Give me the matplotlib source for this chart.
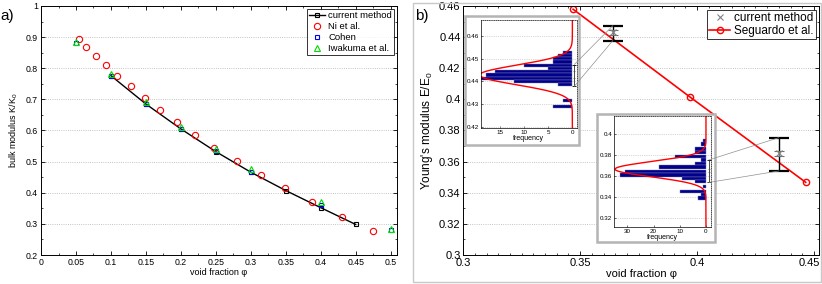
import numpy as np
import matplotlib
matplotlib.use('Agg')
import matplotlib.pyplot as plt
from matplotlib.patches import Rectangle, ConnectionPatch
from matplotlib.ticker import MultipleLocator, FuncFormatter
from matplotlib.transforms import ScaledTranslation

plt.rcParams['font.family'] = ['Liberation Sans', 'DejaVu Sans']
plt.rcParams['mathtext.default'] = 'regular'

# ---- panel a) bulk modulus ----
phi_cur = [0.10, 0.15, 0.20, 0.25, 0.30, 0.35, 0.40, 0.45]
K_cur = [0.776, 0.685, 0.605, 0.532, 0.466, 0.407, 0.352, 0.298]

phi_ni = [0.054, 0.065, 0.078, 0.093, 0.108, 0.128, 0.148, 0.170, 0.194, 0.220,
          0.248, 0.280, 0.314, 0.349, 0.387, 0.430, 0.474]
K_ni = [0.894, 0.869, 0.840, 0.809, 0.776, 0.742, 0.705, 0.666, 0.626, 0.587,
        0.545, 0.502, 0.457, 0.414, 0.370, 0.323, 0.277]

phi_cohen = [0.05, 0.10, 0.15, 0.20, 0.25, 0.30, 0.40, 0.50]
K_cohen = [0.880, 0.775, 0.684, 0.604, 0.534, 0.468, 0.361, 0.280]

phi_iwa = [0.05, 0.10, 0.15, 0.20, 0.25, 0.30, 0.40, 0.50]
K_iwa = [0.884, 0.782, 0.692, 0.611, 0.541, 0.476, 0.369, 0.284]

# ---- panel b) Young's modulus ----
phi_seg = [0.347, 0.397, 0.4465]
E_seg = [0.4579, 0.4015, 0.3467]

phi_cm = np.array([0.364, 0.435])
E_cm = np.array([0.4431, 0.3653])
E_lo = np.array([0.4378, 0.3540])
E_hi = np.array([0.4474, 0.3754])
E_lo_in = np.array([0.4416, 0.3636])
E_hi_in = np.array([0.4446, 0.3668])

# histograms of the two insets
hist1_E = [0.4527, 0.4513, 0.4499, 0.4485, 0.4470, 0.4456, 0.4442, 0.4428,
           0.4414, 0.4400, 0.4386, 0.4316, 0.4288]
hist1_n = [2, 3, 4, 4, 10, 5, 16, 18, 19, 12, 3, 2, 4]
bw1 = 0.00141
fit1 = (19.2, 0.4428, 0.0043)   # amplitude, mean, sigma

hist2_E = [0.3935, 0.3905, 0.3858, 0.3825, 0.3789, 0.3754, 0.3722, 0.3686,
           0.3646, 0.3611, 0.3580, 0.3549, 0.3500, 0.3456, 0.3421, 0.3393]
hist2_n = [1, 2, 4, 4, 12, 2, 4, 18, 31, 33, 9, 4, 1, 10, 2, 3]
bw2 = 0.0031
fit2 = (34.7, 0.3666, 0.0072)

fmt_g = FuncFormatter(lambda v, p: '%g' % round(v, 4))


def style_axes(ax, size):
    ax.tick_params(which='both', direction='in', top=True, right=True, labelsize=size)
    ax.tick_params(which='major', length=3, width=0.6, pad=2)
    ax.tick_params(which='minor', length=1.5, width=0.5)
    for s in ax.spines.values():
        s.set_linewidth(0.7)
    ax.yaxis.grid(True, ls=':', color='#b0b0b0', lw=0.6)
    ax.set_axisbelow(True)
    ax.xaxis.set_major_formatter(fmt_g)
    ax.yaxis.set_major_formatter(fmt_g)


fig = plt.figure(figsize=(8.22, 2.84), dpi=100)

# ---------------- a) ----------------
ax1 = fig.add_axes([0.0499, 0.1021, 0.4331, 0.8768])
ax1.plot(phi_cur, K_cur, '-s', color='black', mfc='none', ms=3.5, mew=0.8, lw=1,
         label='current method')
ax1.plot(phi_ni, K_ni, 'o', ls='none', mec='red', mfc='none', ms=4.5, mew=0.8,
         label='Ni et al.')
ax1.plot(phi_cohen, K_cohen, 's', ls='none', mec='blue', mfc='none', ms=3.5, mew=0.8,
         label='Cohen')
ax1.plot(phi_iwa, K_iwa, '^', ls='none', mec='#00dd00', mfc='none', ms=4.5, mew=0.8,
         label='Iwakuma et al.')
ax1.set_xlim(0, 0.509)
ax1.set_ylim(0.2, 1)
ax1.xaxis.set_major_locator(MultipleLocator(0.05))
ax1.xaxis.set_minor_locator(MultipleLocator(0.025))
ax1.yaxis.set_major_locator(MultipleLocator(0.1))
ax1.yaxis.set_minor_locator(MultipleLocator(0.05))
style_axes(ax1, 6.3)
ax1.set_xlabel('void fraction φ', fontsize=6.5, labelpad=1)
ax1.set_ylabel('bulk modulus K/K$_0$', fontsize=6.5, labelpad=4)
leg1 = ax1.legend(loc='upper right', fontsize=6.8, frameon=True, fancybox=False,
                  borderpad=0.25, labelspacing=0.2, handlelength=1.7,
                  handletextpad=0.3, borderaxespad=0.3)
leg1.get_frame().set_edgecolor('black')
leg1.get_frame().set_linewidth(0.7)
fig.text(0.0, 0.93, 'a)', fontsize=11)

# ---------------- b) ----------------
fig.add_artist(Rectangle((413 / 822, 2 / 284), 408 / 822, 279 / 284,
                         transform=fig.transFigure, fill=False, ec='#c8c8c8', lw=1))
ax2 = fig.add_axes([0.5636, 0.1021, 0.4331, 0.8768])
h_seg, = ax2.plot(phi_seg, E_seg, '-o', color='red', mfc='none', ms=4.5, mew=1, lw=1.2,
                  label='Seguardo et al.')
ax2.errorbar(phi_cm, E_cm, yerr=[E_cm - E_lo, E_hi - E_cm], fmt='none', ecolor='black',
             elinewidth=1, capsize=7.5, capthick=1.6)
ax2.errorbar(phi_cm, E_cm, yerr=[E_cm - E_lo_in, E_hi_in - E_cm], fmt='none',
             ecolor='#707070', elinewidth=0.8, capsize=3.5, capthick=0.8)
h_cm, = ax2.plot(phi_cm, E_cm, 'x', ls='none', color='#808080', ms=4, mew=0.8,
                 label='current method')
ax2.set_xlim(0.3, 0.4523)
ax2.set_ylim(0.3, 0.46)
ax2.set_xticks([0.3, 0.35, 0.4, 0.45])
ax2.xaxis.set_minor_locator(MultipleLocator(0.005))
ax2.yaxis.set_major_locator(MultipleLocator(0.02))
ax2.yaxis.set_minor_locator(MultipleLocator(0.01))
style_axes(ax2, 8)
# keep the last x label inside the figure, as in the original
last_lbl = ax2.xaxis.get_major_ticks()[-1].label1
last_lbl.set_transform(last_lbl.get_transform() +
                       ScaledTranslation(-5 / 100, 0, fig.dpi_scale_trans))
ax2.set_xlabel('void fraction φ', fontsize=8, labelpad=1)
ax2.set_ylabel("Young's modulus E/E$_0$", fontsize=8.5, labelpad=3)
leg2 = ax2.legend([h_cm, h_seg], ['current method', 'Seguardo et al.'], loc='upper right',
                  fontsize=8.5, frameon=True, fancybox=False, borderpad=0.2,
                  labelspacing=0.1, handlelength=1.8, handletextpad=0.3,
                  borderaxespad=0.3)
leg2.get_frame().set_edgecolor('black')
leg2.get_frame().set_linewidth(0.7)
fig.text(415 / 822, 0.93, 'b)', fontsize=11)


def make_inset(frame, pos, hist_E, hist_n, bw, fit, xlim, ylim, yticks, xticks, k, x_eb):
    fig.add_artist(Rectangle(frame[:2], frame[2], frame[3], transform=fig.transFigure,
                             fc='white', ec='#b4b4b4', lw=1.8, zorder=2))
    ax = fig.add_axes(pos, zorder=3)
    ax.barh(hist_E, hist_n, height=bw, color='#00008b', edgecolor='#8080b0', lw=0.3)
    A, mu, sig = fit
    yy = np.linspace(ylim[0], ylim[1], 300)
    ax.plot(A * np.exp(-(yy - mu) ** 2 / (2 * sig ** 2)), yy, color='red', lw=1)
    ax.errorbar([x_eb], [E_cm[k]], yerr=[[E_cm[k] - E_lo[k]], [E_hi[k] - E_cm[k]]],
                fmt='none', ecolor='black', elinewidth=0.5, capsize=1.5, capthick=0.6)
    ax.errorbar([x_eb], [E_cm[k]], yerr=[[E_cm[k] - E_lo_in[k]], [E_hi_in[k] - E_cm[k]]],
                fmt='none', ecolor='#505050', elinewidth=0.5, capsize=1.0, capthick=0.5)
    ax.set_xlim(*xlim)
    ax.set_ylim(*ylim)
    ax.set_yticks(yticks)
    ax.set_xticks(xticks)
    ax.tick_params(which='both', direction='in', labelsize=4.5, length=1.5, width=0.4,
                   pad=1.5)
    ax.xaxis.set_major_formatter(fmt_g)
    ax.yaxis.set_major_formatter(fmt_g)
    ax.yaxis.grid(True, ls=':', color='#b0b0b0', lw=0.5)
    ax.set_axisbelow(True)
    for name, s in ax.spines.items():
        s.set_linewidth(0.5)
        if name in ('top', 'right'):
            s.set_linestyle(':')
    ax.set_xlabel('frequency', fontsize=5, labelpad=0)
    for yv in (E_hi[k], E_lo[k]):
        con = ConnectionPatch(xyA=(x_eb, yv), coordsA=ax.transData,
                              xyB=(phi_cm[k], yv), coordsB=ax2.transData,
                              color='#909090', lw=0.5, zorder=4)
        fig.add_artist(con)
    return ax


make_inset((0.5657, 0.4894, 0.1381, 0.4542), [0.5848, 0.5482, 0.1168, 0.3813],
           hist1_E, hist1_n, bw1, fit1, (19, -0.9), (0.4193, 0.467),
           [0.42, 0.43, 0.44, 0.45, 0.46], [15, 10, 5, 0], 0, -0.4)
make_inset((0.7259, 0.1489, 0.1439, 0.4496), [0.7473, 0.2018, 0.1176, 0.3908],
           hist2_E, hist2_n, bw2, fit2, (35, -1.9), (0.312, 0.4174),
           [0.32, 0.34, 0.36, 0.38, 0.40], [30, 20, 10, 0], 1, -1.1)

fig.savefig('out.png', dpi=100)
